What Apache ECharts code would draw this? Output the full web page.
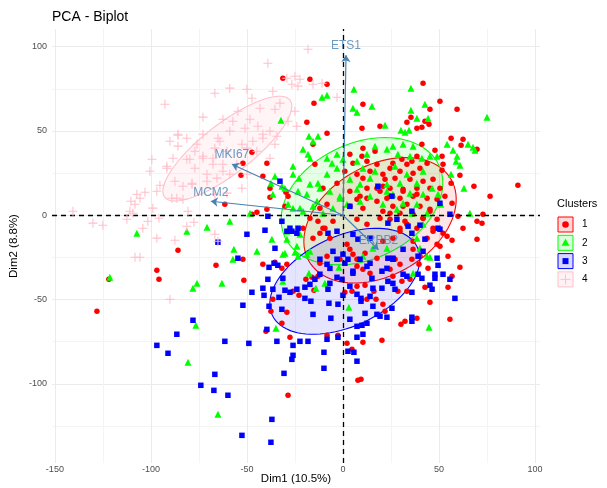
<!DOCTYPE html>
<html>
<head>
<meta charset="utf-8">
<script src="https://cdn.jsdelivr.net/npm/echarts@6/dist/echarts.min.js"></script>
<style>html,body{margin:0;padding:0;background:#fff;}#c{width:607px;height:488px;}</style>
</head>
<body>
<div id="c"></div>
<script>
// ---------- data ----------
const clusterNames = ['1', '2', '3', '4'];
const clusterColors = ['#FF0000', '#00FF00', '#0000FF', '#FFC0CB'];
const xTicks = [-150, -100, -50, 0, 50, 100];
const yTicks = [-100, -50, 0, 50, 100];
const xMinorTicks = [-125, -75, -25, 25, 75];
const yMinorTicks = [-125, -75, -25, 25, 75];

const cluster1 = [[41.7,78.3],[50.5,67.7],[45.3,62.9],[59.4,62.9],[33.3,55.2],[35.4,58.2],[42.7,55.8],[44.8,54],[38.5,51.6],[41.1,52.2],[19.3,52.8],[56.3,45.7],[62.5,45.1],[61.5,41.5],[69.8,39.2],[41.1,42.1],[47.9,38.6],[51.6,35],[52.1,30.3],[51.6,26.7],[60.9,23.7],[68.2,17.2],[91.1,17.8],[76.6,11.3],[56.3,19],[56.8,7.1],[59.9,-0.6],[72.9,0.6],[69.8,-3.6],[72.4,-4.7],[62.5,-7.7],[56.8,-14.8],[69.8,-14.2],[54.2,-12.5],[52.1,-10.7],[49,-2.4],
[35.9,32],[38.5,35],[33.3,30.3],[40.1,27.9],[43.8,30.9],[29.7,26.1],[24.5,27.9],[20.8,24.3],[27.1,22],[34.9,21.4],[41.7,20.2],[45.3,16],[38.5,16],[31.3,15.4],[24.5,16],[19.3,14.2],[22.9,10.1],[29.7,10.1],[36.5,11.3],[43.8,10.1],[49,9.5],[53.1,11.3],[33.3,6.5],[26,5.3],[40.1,5.3],[45.3,3.6],[20.8,2.4],[29.7,1.2],[36.5,0.6],[41.7,-1.8],[24.5,-2.4],[32.3,-3.6],[46.9,-7.7],[38.5,-7.7],[29.7,-9.5],[43.8,-13.6],[36.5,-15.4],[49,-17.2],[50.5,16],[46.9,21.4],[21.9,21.4],[26,30.9],[30.7,33.2],[36.5,24.9],
[-31.3,81.3],[-17.2,80.7],[-8.3,77.7],[10.4,65.9],[9.9,51.6],[-15.1,66.5],[-18.8,55.2],[-8.3,48.7],[-15.6,42.1],[-47.4,37.4],[-52.1,30.9],[-39.6,30.9],[-14.6,30.3],[-53.1,23.7],[-41.7,23.1],[-38,16],[-38,10.7],[-61.5,6.5],[-29.7,13.6],[-44.8,1.8],[-47.4,0.6],[-39.6,3.6],[-13,-3.6],[-17.2,-1.8],
[-10.4,16],[-3.1,19],[3.6,14.2],[10.4,22],[12.5,10.1],[17.7,16],[-8.3,6.5],[7.3,9.5],[-12,4.2],[-9.4,-7.7],[-6.8,-13.6],[-12,-10.7],[1,26.1],[7.3,24.3],[14.1,26.1],[17.7,30.3],[12.5,32],[16.7,38],[9.9,35],[3.6,36.2],[5.2,30.9],[10.4,39.8],
[-85.9,-20.8],[-96.9,-32.6],[-95.8,-38],[-121.9,-38],[-128.1,-57],
[-66.1,-29.7],[-52.1,-26.1],[-51.6,-38.6],[-41.7,-29.1],[-35.4,-27.9],[-31.8,-31.5],[-29.2,-29.1],[-26,-45.1],[-22.9,-47.5],[-36.5,-49.9],[-37.5,-57],[-29.2,-57.6],[-31.8,-64.1],[-40.1,-68.8],[-27.6,-72.4],[-28.6,-106.8],[-19.3,-38],[-16.1,-36.8],[-15.1,-44.5],[-13,-36.2],[-8.3,-71.2],[-2.6,-71.2],[2.1,-76],[4.7,-79.5],[7.8,-97.9],[9.4,-97.3],[10.4,-75.4],[1,-45.7],[4.7,-45.1],[7.3,-42.1],[11.5,-41.5],[12.5,-49.9],[16.1,-45.1],[17.2,-49.9],[-12,-28.5],[-8.3,-24.3],[-1.6,-26.1],[3.6,-20.2],[7.3,-26.1],[10.4,-32],[14.1,-34.4],[7.3,-30.3],
[54.7,-24.3],[60.9,-30.9],[56.8,-36.2],[44.3,-31.5],[39.6,-29.1],[42.7,-42.7],[54.7,-42.7],[45.3,-51.6],[38.5,-61.1],[32.3,-62.9],[30.2,-64.7],[55.7,-61.7],[20.3,-74.2],[21.9,-57],[20.8,-52.8],[30.7,-39.2],[34.9,-38],[26,-36.2],[33.3,-45.1],[28.6,-45.1],[24.5,-32],[29.7,-29.1],[35.9,-26.1],[27.1,-26.1],[40.1,-24.3],[50.5,-18.4],[36.5,-20.2],
[-30.2,5.3],[-28.6,11.3],[-20.8,-7.7],[-15.6,-13.6],[-10.4,-7.7],[-5.2,-3.6],[2.1,-17.2],[5.2,-23.1],[11.5,-22.6],[17.7,-25.5],[20.8,-15.4],[26,-13.6],[29.7,-7.7],[33.3,-5.3],[7.3,-2.4],[12.5,-5.3],[19.3,-1.8],[24.5,1.2],[31.3,5.3],[10.4,4.2],[3.6,5.3],[17.7,8.3],[24.5,11.3],[31.3,14.2],[38.5,12.5],[41.7,-1.8],[46.9,-9.5],[45.3,2.4],[12.5,16],[20.8,17.2],[8.9,11.3]];

const cluster2 = [[35.4,75.4],[42.7,65.9],[35.4,62.3],[38.5,57.6],[44.3,57.6],[75,58.2],[21.9,53.4],[30.2,50.4],[32.3,49.3],[34.4,50.4],[54.2,42.1],[65.1,42.1],[67.7,40.4],[68.8,38.6],[57.3,38.6],[59.4,35],[58.9,32],[60.9,29.7],[56.3,24.3],[63,16],[66.1,1.2],[49.5,12.5],[51,6.5],[49,35],[22.9,39.2],[26,41],[31.3,42.1],[36.5,41],[41.1,33.8],[45.3,35],[28.6,36.2],[34.9,35],[27.1,29.1],[33.3,24.3],[41.7,26.1],[29.7,19],[38.5,19],[22.9,18.4],[34.9,13.1],[41.7,12.5],[26,12.5],[31.3,7.1],[38.5,6.5],[43.8,1.2],[46.4,16],[20.8,6.5],[28.1,3.6],[35.9,1.2],[41.7,-5.3],[38.5,-13.6],
[5.7,74.8],[5.2,63.5],[7.3,61.1],[15.1,64.7],[-8.3,71.2],[-10.9,70],[-32.3,56.4],[-17.7,46.9],[-13,46.9],[-15.6,43.9],[-20.8,39.2],[-18.2,36.2],[-17.2,33.8],[-26,29.1],[-26,24.3],[-22.9,22],[-35.4,23.1],[-37.5,19],[-30.2,16],[-36.5,12.5],[-23.4,14.2],[-17.2,18.4],[-12,16],[-8.3,24.3],[-3.1,27.9],[-5.7,30.9],[0,33.2],[3.6,21.4],[8.9,18.4],[14.1,22],[16.7,26.1],[10.4,27.9],[7.3,32],[12.5,36.2],[16.7,41],[-3.1,36.2],[-8.3,33.8],[-1.6,10.1],[2.1,6.5],[-5.2,4.2],[-10.4,1.2],[-15.6,5.3],[-20.8,2.4],[-26,4.2],[-28.6,6.5],[-48.4,1.2],[-58.9,-3.6],[-29.2,-9.5],[-22.4,-11.3],[-37,-14.2],
[-107.3,-10.7],[-81.3,-9.5],[-70.8,-7.1],
[-121.4,-36.8],[-78.1,-43.3],[-76,-40.4],[-76.6,-65.3],[-80.7,-87.2],
[-56.8,-20.2],[-57.3,-26.1],[-44.8,-21.4],[-63,-40.4],[-30.2,-22.6],[-25,-22],[-23.4,-24.3],[-18.8,-23.1],[-31.3,-39.2],[-17.7,-34.4],[-14.1,-43.3],[-9.4,-40.4],[-2.1,-30.9],[-34.9,-67.1],[3.1,-54.6],[-65.1,-118.1],[10.4,-24.3],[15.6,-19.6],
[45.3,-24.9],[36.5,-34.4],[44.8,-66.5],[22.9,-19.6],[40.1,-19.6],
[-31.8,17.2],[-13,19],[-18.8,12.5],[-6.8,14.2],[-13.5,8.3],[-1.6,11.3],[7.3,15.4],[14.1,11.3],[8.9,8.3],[-22.4,4.2],[-29.2,-14.2],[-24,-18.4],[-17.2,-21.4],[-31.3,-23.1],[22.9,14.2],[43.8,-24.3]];

const cluster3 = [[-35.4,-19.6],[-54.7,-25.5],[-38.5,-30.9],[-35.9,-28.5],[-33.9,-29.7],[-39.1,-38],[-41.7,-43.3],[-47.4,-45.7],[-41.1,-47.5],[-36.5,-43.9],[-33.3,-48.7],[-30.2,-44.5],[-27.6,-45.7],[-24,-43.9],[-19.8,-42.7],[-17.2,-41],[-19.8,-49.3],[-16.7,-51],[-14.6,-38],[-12,-35],[-7.8,-43.9],[-6.8,-40.4],[-3.1,-36.8],[-0.5,-38],[0,-47.5],[-7.3,-52.2],[-2.6,-52.8],[-15.6,-58.8],[-6.3,-61.1],[-31.8,-55.8],[-38.5,-54],[-52.1,-53.4],[-39.6,-67.7],[-34.4,-74.8],[-26,-77.2],[-22.4,-74.8],[-18.2,-74.8],[-26,-83.1],[-26.6,-85.5],[-8.3,-73.6],[-9.9,-81.3],[-9.9,-90.8],[2.6,-80.7],[5.7,-81.3],[7.3,-86.6],[3.6,-61.7],[7.3,-65.9],[9.9,-65.3],[7.3,-72.4],[10.4,-70.6],[12.5,-64.1],[-2.6,-72.4],[-61.5,-74.8],[-49,-76],[-30.7,-93.8],[-66.7,-94.4],[-67.2,-103.9],[-59.9,-106.8],[-37,-121.1],[-52.6,-130.6],[-37.5,-134.7],[-8.3,-29.1],[-3.1,-26.1],[-6.8,-31.5],[2.6,-26.1],[8.9,-26.1],[5.2,-34.4],[12.5,-30.3],[15.1,-37.4],[9.4,-49.3],[9.4,-51],[15.6,-54],[11.5,-58.2],[17.7,-58.8],[3.6,-42.1],[7.3,-46.9],[14.1,-48.1],[15.6,-43.3],[0,-23.1],
[-78.1,-62.3],[-86.5,-70.6],[-96.9,-77.2],[-91.1,-81.9],[-74,-100.9],
[49.5,-29.7],[52.1,-35],[47.9,-35],[47.9,-37.4],[55.7,-38],[58.3,-49.3],[45.3,-41.5],[46.4,-43.9],[35.9,-60.5],[35.9,-62.9],[39.1,-35],[41.1,-37.4],[35.9,-45.7],[27.1,-43.9],[23.4,-39.2],[26,-40.4],[20.3,-43.3],[25.5,-55.2],[22.9,-60.5],[19.3,-59.9],[31.3,-35],[33.3,-36.2],[23.4,-25.5],[26,-25.5],[20.3,-33.2],[22.9,-31.5],[31.3,-20.2],[39.1,-24.3],[41.7,-21.4],
[25.5,11.3],[35.9,2.4],[55.7,0.6],[50.5,7.1],[49.5,-7.7],[50.5,-8.3],[40.1,-5.9],[33.9,-6.5],[28.1,-2.4],[23.4,-4.7],[42.7,-14.2],[35.9,-10.7],
[-32.8,20.2],[-39.1,-0.6],[-50,-11.3],[-40.6,-8.9],[-31.8,-3.6],[-27.6,-7.7],[-26.6,-9.5],[-24,-10.7],[-65.1,-16],[-7.8,-10.7],[-3.1,-9.5],[5.2,-11.3],[7.8,-14.2],[14.1,-13.6],
[-29.2,-9.5],[-23.4,-7.7],[3.6,5.3],[18.2,17.2],[26,-26.1],[5.2,-33.2],[14.1,-28.5],[1,-28.5],[-31.3,-37.4],[-12,-26.1],[-5.2,-21.4],[49,-25.5]];

const cluster4 = [[-92.7,65.9],[-72.9,58.2],[-90.1,43.9],[-85.9,47.5],[-81.3,45.7],[-85.9,41],[-99.5,33.2],[-91.7,29.1],[-88.5,33.8],[-81.3,33.2],[-77.1,38],[-72.9,35],[-100.5,26.1],[-95.3,17.8],[-87.5,20.2],[-83.3,17.2],[-78.6,18.4],[-89.1,10.1],[-86.5,10.1],[-83.3,9.5],[-107.3,12.5],[-103.1,13.6],[-110.4,8.3],[-109.4,1.2],[-99,4.2],[-140.6,2.4],[-130.2,-4.7],[-125,-5.9],[-112.5,-2.4],[-104.2,-7.7],[-101.6,-3.6],[-95.8,-1.8],[-81.3,-6.5],[-77.6,-4.2],[-96.9,-13.6],[-87.5,-14.8],[-80.7,2.4],[-77.1,27.9],[-70.8,24.3],
[-108.3,-24.9],[-105.7,-24.9],[-90.1,-49.9],
[-18.2,98.5],[-39.1,90.2],[-29.2,81.3],[-25,82.5],[-22.4,80.7],[-26.6,77.7],[-23.4,76.6],[-15.6,77.7],[-10.9,78.3],[-3.1,70],[-66.7,72.4],[-58.9,75.4],[-50,74.8],[-47.4,69.4],[-36.5,73.6],[-32.8,66.5],[-35.4,62.9],[-43.2,63.5],[-54.7,61.7],[-62.5,57],[-57.3,55.8],[-48.4,57],[-44.3,52.8],[-51,51.6],[-58.9,49.9],[-65.1,45.7],[-38,49.9],[-41.7,45.7],[-34.4,46.9],[-28.6,55.8],[-25,61.7],[-24,52.8],[-46.9,43.9],[-52.6,42.1],[-66.7,39.8],[-60.4,38],[-35.4,42.1],[-44.8,38],[-38,33.8],[-67.7,33.8],[-62.5,30.3],[-58.9,24.3],[-65.6,22],[-52.6,16],[-66.7,12.5],[-60.4,13.1],[-66.7,-11.3],[-65.1,-15.4],
[-85.9,48.1],[-76,42.1],[-79.7,33.2],[-91.7,27.9],[-78.6,19],[-70.8,20.2],[-62.5,26.1],[-55.2,30.3],[-50,24.3],[-50,39.8],[-41.7,48.1],[-64.1,43.9],[-72.9,48.1],[-72.9,33.8],[-67.7,30.3],[-96.9,14.2],[-105.7,10.1],[-108.3,6.5],[-110.9,2.4]];

// confidence ellipses: [centerX, centerY, axis1X, axis1Y, axis2X, axis2Y]
const ellipse1 = [19.3, -3.0, 37.0, 24.3, 14.3, -28.2];
const ellipse2 = [9.9, 8.3, 40.1, 21.3, 12.8, -31.2];
const ellipse3 = [1.0, -39.2, 37.8, 20.1, 9.9, -24.2];
const ellipse4 = [-60.2, 39.5, 32.6, 28.8, 8.0, -11.7];

// variable arrows
const varNames = ['ETS1', 'MKI67', 'MCM2', 'ERBB2'];
const varX = [1.6, -57.8, -68.8, 18.5];
const varY = [95, 30.3, 8.3, -20.5];

// ---------- chart ----------
const ellipses = [ellipse1, ellipse2, ellipse3, ellipse4];
function rgba(hex, a) {
  const n = parseInt(hex.slice(1), 16);
  return 'rgba(' + ((n >> 16) & 255) + ',' + ((n >> 8) & 255) + ',' + (n & 255) + ',' + a + ')';
}
const plusPath = 'path://M4.4,0L5.6,0L5.6,4.4L10,4.4L10,5.6L5.6,5.6L5.6,10L4.4,10L4.4,5.6L0,5.6L0,4.4L4.4,4.4Z';
const symbols = ['circle', 'triangle', 'rect', plusPath];
const sizes = [5.5, 7, 5.5, 9];
const clusters = [cluster1, cluster2, cluster3, cluster4];
const steel = '#4682B4';
const fontFam = '"Liberation Sans", Arial, Helvetica, sans-serif';

const X_MIN = -151.5, X_MAX = 102.6, Y_MIN = -147, Y_MAX = 110.5;

const series = [];
series.push({
  type: 'custom',
  xAxisIndex: 1, yAxisIndex: 1,
  silent: true,
  z: 1,
  data: ellipses.map(e => [e[0], e[1]]),
  renderItem: function (params, api) {
    const e = ellipses[params.dataIndex];
    const col = clusterColors[params.dataIndex];
    const pts = [];
    for (let k = 0; k <= 90; k++) {
      const t = k / 90 * 2 * Math.PI;
      pts.push(api.coord([e[0] + e[2] * Math.cos(t) + e[4] * Math.sin(t),
                          e[1] + e[3] * Math.cos(t) + e[5] * Math.sin(t)]));
    }
    return {
      type: 'polygon',
      shape: { points: pts },
      style: { fill: rgba(col, params.dataIndex === 3 ? 0.18 : 0.1), stroke: col, lineWidth: 1.1 }
    };
  }
});
clusters.forEach((d, i) => {
  series.push({
    name: clusterNames[i],
    type: 'scatter',
    data: d,
    symbol: symbols[i],
    symbolSize: sizes[i],
    itemStyle: { color: clusterColors[i], opacity: 1 },
    z: 2 + i,
    silent: true
  });
});
series.push({
  type: 'lines',
  coordinateSystem: 'cartesian2d',
  z: 10,
  silent: true,
  symbol: ['none', 'arrow'],
  symbolSize: [0, 7],
  lineStyle: { color: steel, width: 1.2, opacity: 1 },
  data: varNames.map((n, i) => ({ coords: [[0, 0], [varX[i], varY[i]]] }))
});
series.push({
  type: 'scatter',
  z: 11,
  silent: true,
  symbolSize: 0,
  data: varNames.map((n, i) => ({ value: [varX[i], varY[i]], name: n })),
  label: {
    show: true, position: 'top', distance: 3, formatter: '{b}',
    color: steel, fontSize: 12, fontFamily: fontFam
  },
  markLine: {
    silent: true, symbol: 'none', animation: false,
    label: { show: false },
    lineStyle: { color: '#000', type: [5, 4], width: 1.3 },
    data: [{ xAxis: 0 }, { yAxis: 0 }]
  }
});

// legend drawn as graphic keys
const legendChildren = [{
  type: 'text', left: 557, top: 198,
  style: { text: 'Clusters', font: '11px ' + fontFam, fill: '#000' }
}];
clusterNames.forEach((nm, i) => {
  const y0 = 217 + i * 18.3, cx = 565.5, cy = y0 + 7.5, col = clusterColors[i];
  legendChildren.push({
    type: 'rect', shape: { x: 558, y: y0, width: 15, height: 15 },
    style: { fill: rgba(col, i === 3 ? 0.2 : 0.15), stroke: col, lineWidth: 1 }
  });
  let m;
  if (i === 0) m = { type: 'circle', shape: { cx: cx, cy: cy, r: 3.3 }, style: { fill: col } };
  else if (i === 1) m = { type: 'polygon', shape: { points: [[cx, cy - 4], [cx + 4, cy + 3], [cx - 4, cy + 3]] }, style: { fill: col } };
  else if (i === 2) m = { type: 'rect', shape: { x: cx - 3, y: cy - 3, width: 6, height: 6 }, style: { fill: col } };
  else m = { type: 'group', children: [
    { type: 'line', shape: { x1: cx - 5, y1: cy, x2: cx + 5, y2: cy }, style: { stroke: col, lineWidth: 1 } },
    { type: 'line', shape: { x1: cx, y1: cy - 5, x2: cx, y2: cy + 5 }, style: { stroke: col, lineWidth: 1 } }
  ] };
  legendChildren.push(m);
  legendChildren.push({
    type: 'text', style: { text: nm, x: 582, y: cy, verticalAlign: 'middle', font: '10px ' + fontFam, fill: '#000' }
  });
});

const axisLabelStyle = { color: '#4D4D4D', fontSize: 9, fontFamily: fontFam };
const chart = echarts.init(document.getElementById('c'), null, { renderer: 'canvas' });
chart.setOption({
  animation: false,
  backgroundColor: '#fff',
  title: {
    text: 'PCA - Biplot', left: 47, top: 5,
    textStyle: { fontSize: 14, fontWeight: 'normal', color: '#000', fontFamily: fontFam }
  },
  grid: { left: 52, right: 67, top: 29, bottom: 25, containLabel: false, outerBoundsMode: 'none' },
  xAxis: [{
    type: 'value', min: X_MIN, max: X_MAX,
    name: 'Dim1 (10.5%)', nameLocation: 'middle', nameGap: 10, nameMoveOverlap: false,
    nameTextStyle: { fontSize: 11.5, color: '#000', fontFamily: fontFam },
    axisLine: { show: false },
    axisTick: { show: false, customValues: xTicks },
    axisLabel: { customValues: xTicks, margin: 2, ...axisLabelStyle },
    splitLine: { show: true, lineStyle: { color: '#EBEBEB', width: 1 } }
  }, {
    type: 'value', min: X_MIN, max: X_MAX, position: 'bottom',
    axisLine: { show: false },
    axisTick: { show: false, customValues: xMinorTicks },
    axisLabel: { show: false },
    splitLine: { show: true, lineStyle: { color: '#F4F4F4', width: 1 } }
  }],
  yAxis: [{
    type: 'value', min: Y_MIN, max: Y_MAX,
    name: 'Dim2 (8.8%)', nameLocation: 'middle', nameGap: 32, nameRotate: 90, nameMoveOverlap: false,
    nameTextStyle: { fontSize: 11.5, color: '#000', fontFamily: fontFam },
    axisLine: { show: false },
    axisTick: { show: false, customValues: yTicks },
    axisLabel: { customValues: yTicks, margin: 5, ...axisLabelStyle },
    splitLine: { show: true, lineStyle: { color: '#EBEBEB', width: 1 } }
  }, {
    type: 'value', min: Y_MIN, max: Y_MAX, position: 'left',
    axisLine: { show: false },
    axisTick: { show: false, customValues: yMinorTicks },
    axisLabel: { show: false },
    splitLine: { show: true, lineStyle: { color: '#F4F4F4', width: 1 } }
  }],
  graphic: legendChildren,
  series: series
});
</script>
</body>
</html>
